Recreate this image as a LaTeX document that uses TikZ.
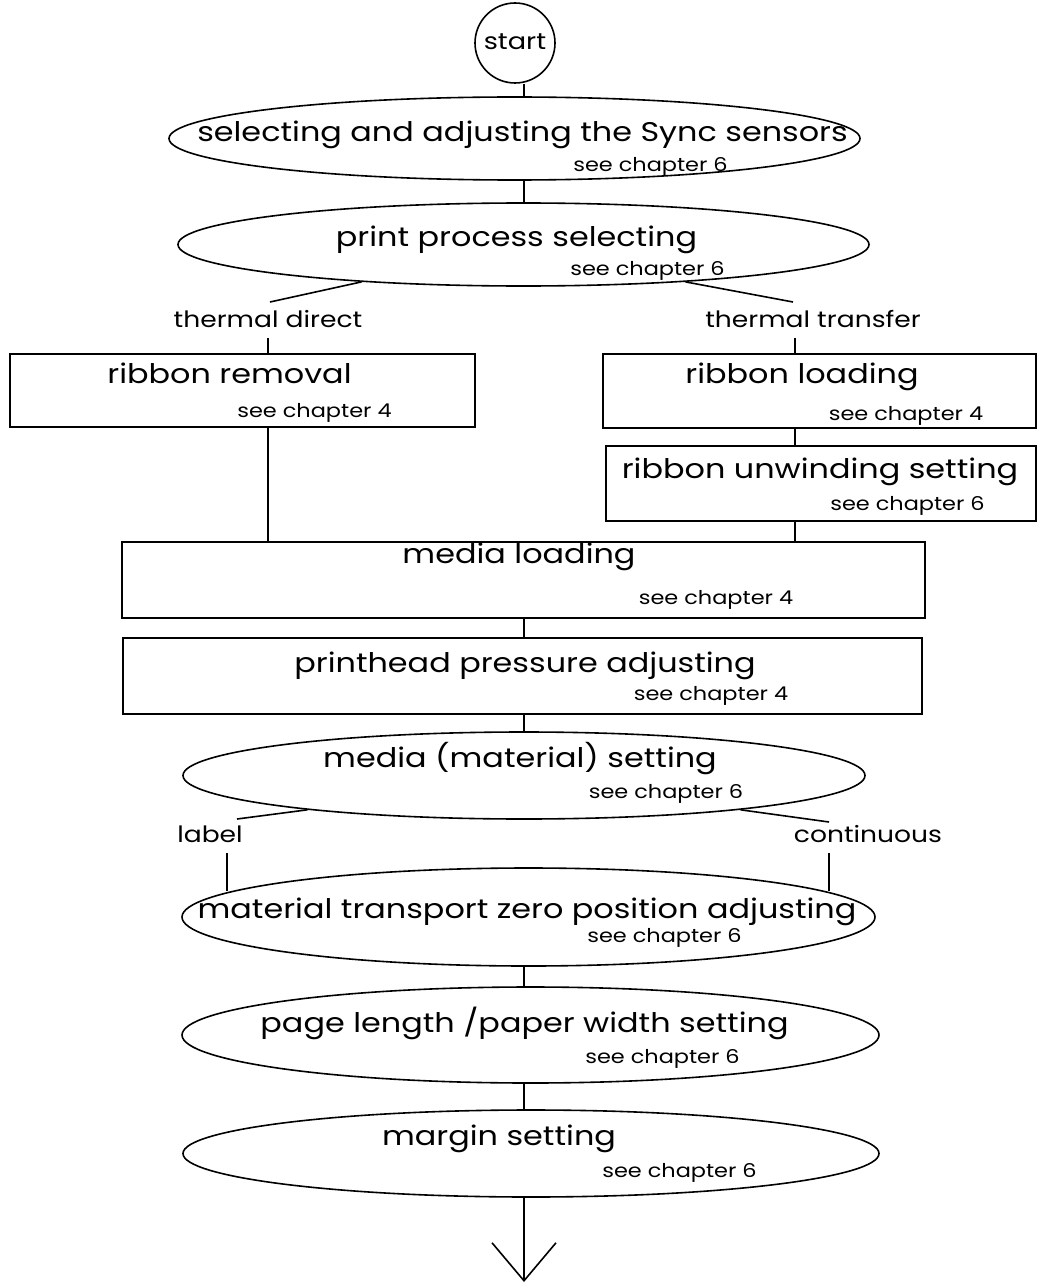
\documentclass[tikz,border=0pt]{standalone}
\usepackage{fontspec}
\setmainfont{Poppins}[FakeStretch=1.18]
\usetikzlibrary{shapes,arrows.meta}

\begin{document}
\begin{tikzpicture}[x=1pt,y=-1pt,line width=1.6pt]

  \tikzstyle{enode} = [draw=black, ellipse, inner sep = 0pt]
  \tikzstyle{bnode} = [draw=black, rectangle, inner sep = 0pt]
  \tikzstyle{ttxt} = [anchor=base, inner sep = 0pt, font=\fontsize{27}{32}\selectfont]
  \tikzstyle{stxt} = [anchor=base, inner sep = 0pt, font=\fontsize{19}{22}\selectfont]
  \tikzstyle{btxt} = [anchor=base, inner sep = 0pt, font=\fontsize{22.5}{26}\selectfont]

  \useasboundingbox (0,0) rectangle (1039,1284);
  \coordinate (spine) at (524,0);

  % top
  \node[draw=black, circle, minimum size=80pt, inner sep=0pt] (start) at (515,43) {};
  \node[ttxt, font=\fontsize{23}{28}\selectfont] (startT) at (515,50) {start};

  \node[enode, minimum width=691pt, minimum height=83pt] (sync) at (514.5,138.5) {};
  \node[ttxt] (syncT) at (522.5,142) {selecting and adjusting the Sync sensors};
  \node[stxt] (syncS) at (650.5,172) {see chapter 6};

  \node[enode, minimum width=691pt, minimum height=83pt] (print) at (523.5,244.5) {};
  \node[ttxt] (printT) at (516.5,246) {print process selecting};
  \node[stxt] (printS) at (647.5,275) {see chapter 6};

  \draw (start.south -| spine) -- (sync.north -| spine);
  \draw (sync.south -| spine) -- (print.north -| spine);

  % print process branches
  \coordinate (tdend) at (270,302);
  \coordinate (ttend) at (793,302);
  \coordinate (tdtick) at (268,338);
  \coordinate (tttick) at (795,338);
  \node[btxt] (tdir) at (268,327) {thermal direct};
  \node[btxt] (ttra) at (813,327) {thermal transfer};
  \draw (print.193.5) -- (tdend);
  \draw (print.347) -- (ttend);

  \node[bnode, minimum width=465pt, minimum height=73pt] (rrem) at (242.5,390.5) {};
  \node[ttxt] (rremT) at (229.5,383) {ribbon removal};
  \node[stxt] (rremS) at (314.5,417) {see chapter 4};

  \node[bnode, minimum width=433pt, minimum height=74pt] (rload) at (819.5,391) {};
  \node[ttxt] (rloadT) at (802,383) {ribbon loading};
  \node[stxt] (rloadS) at (906,420) {see chapter 4};

  \node[bnode, minimum width=430pt, minimum height=75pt] (runw) at (821,483.5) {};
  \node[ttxt] (runwT) at (820,478) {ribbon unwinding setting};
  \node[stxt] (runwS) at (907.5,510) {see chapter 6};

  \draw (tdtick) -- (tdtick |- rrem.north);
  \draw (tttick) -- (tttick |- rload.north);
  \draw (tttick |- rload.south) -- (tttick |- runw.north);

  % media
  \node[bnode, minimum width=803pt, minimum height=76pt] (mload) at (523.5,580) {};
  \node[ttxt] (mloadT) at (519,563) {media loading};
  \node[stxt] (mloadS) at (716,604) {see chapter 4};

  \node[bnode, minimum width=799pt, minimum height=76pt] (phead) at (522.5,676) {};
  \node[ttxt] (pheadT) at (525,672) {printhead pressure adjusting};
  \node[stxt] (pheadS) at (711,700) {see chapter 4};

  \draw (tdtick |- rrem.south) -- (tdtick |- mload.north);
  \draw (tttick |- runw.south) -- (tttick |- mload.north);
  \draw (mload.south -| spine) -- (phead.north -| spine);

  \node[enode, minimum width=682pt, minimum height=87pt] (mset) at (524,775.5) {};
  \node[ttxt] (msetT) at (520,767) {media (material) setting};
  \node[stxt] (msetS) at (666,798) {see chapter 6};

  \draw (phead.south -| spine) -- (mset.north -| spine);

  % label / continuous
  \coordinate (lblend) at (237,819);
  \coordinate (cntend) at (829,822);
  \coordinate (lbltick) at (227,853);
  \coordinate (cnttick) at (829,853);
  \node[btxt] (lbl) at (210,842) {label};
  \node[btxt] (cnt) at (868,842) {continuous};
  \draw (mset.189.5) -- (lblend);
  \draw (mset.351) -- (cntend);

  \node[enode, minimum width=693pt, minimum height=98pt] (mzero) at (528.5,917) {};
  \node[ttxt] (mzeroT) at (527,918) {material transport zero position adjusting};
  \node[stxt] (mzeroS) at (664.5,942) {see chapter 6};

  \draw (lbltick) -- (lbltick |- mzero.175.4);
  \draw (cnttick) -- (cnttick |- mzero.5.4);

  % bottom
  \node[enode, minimum width=697pt, minimum height=96pt] (plen) at (530.5,1035) {};
  \node[ttxt] (plenT) at (524.5,1032) {page length /paper width setting};
  \node[stxt] (plenS) at (662.5,1063) {see chapter 6};

  \node[enode, minimum width=696pt, minimum height=87pt] (marg) at (531,1153.5) {};
  \node[ttxt] (margT) at (499,1145) {margin setting};
  \node[stxt] (margS) at (679.5,1177) {see chapter 6};

  \coordinate (fin) at (524,1282);
  \draw (mzero.south -| spine) -- (plen.north -| spine);
  \draw (plen.south -| spine) -- (marg.north -| spine);
  \draw[-{Straight Barb[length=38pt,width=64pt]}] (marg.south -| spine) -- (fin);

\end{tikzpicture}
\end{document}
